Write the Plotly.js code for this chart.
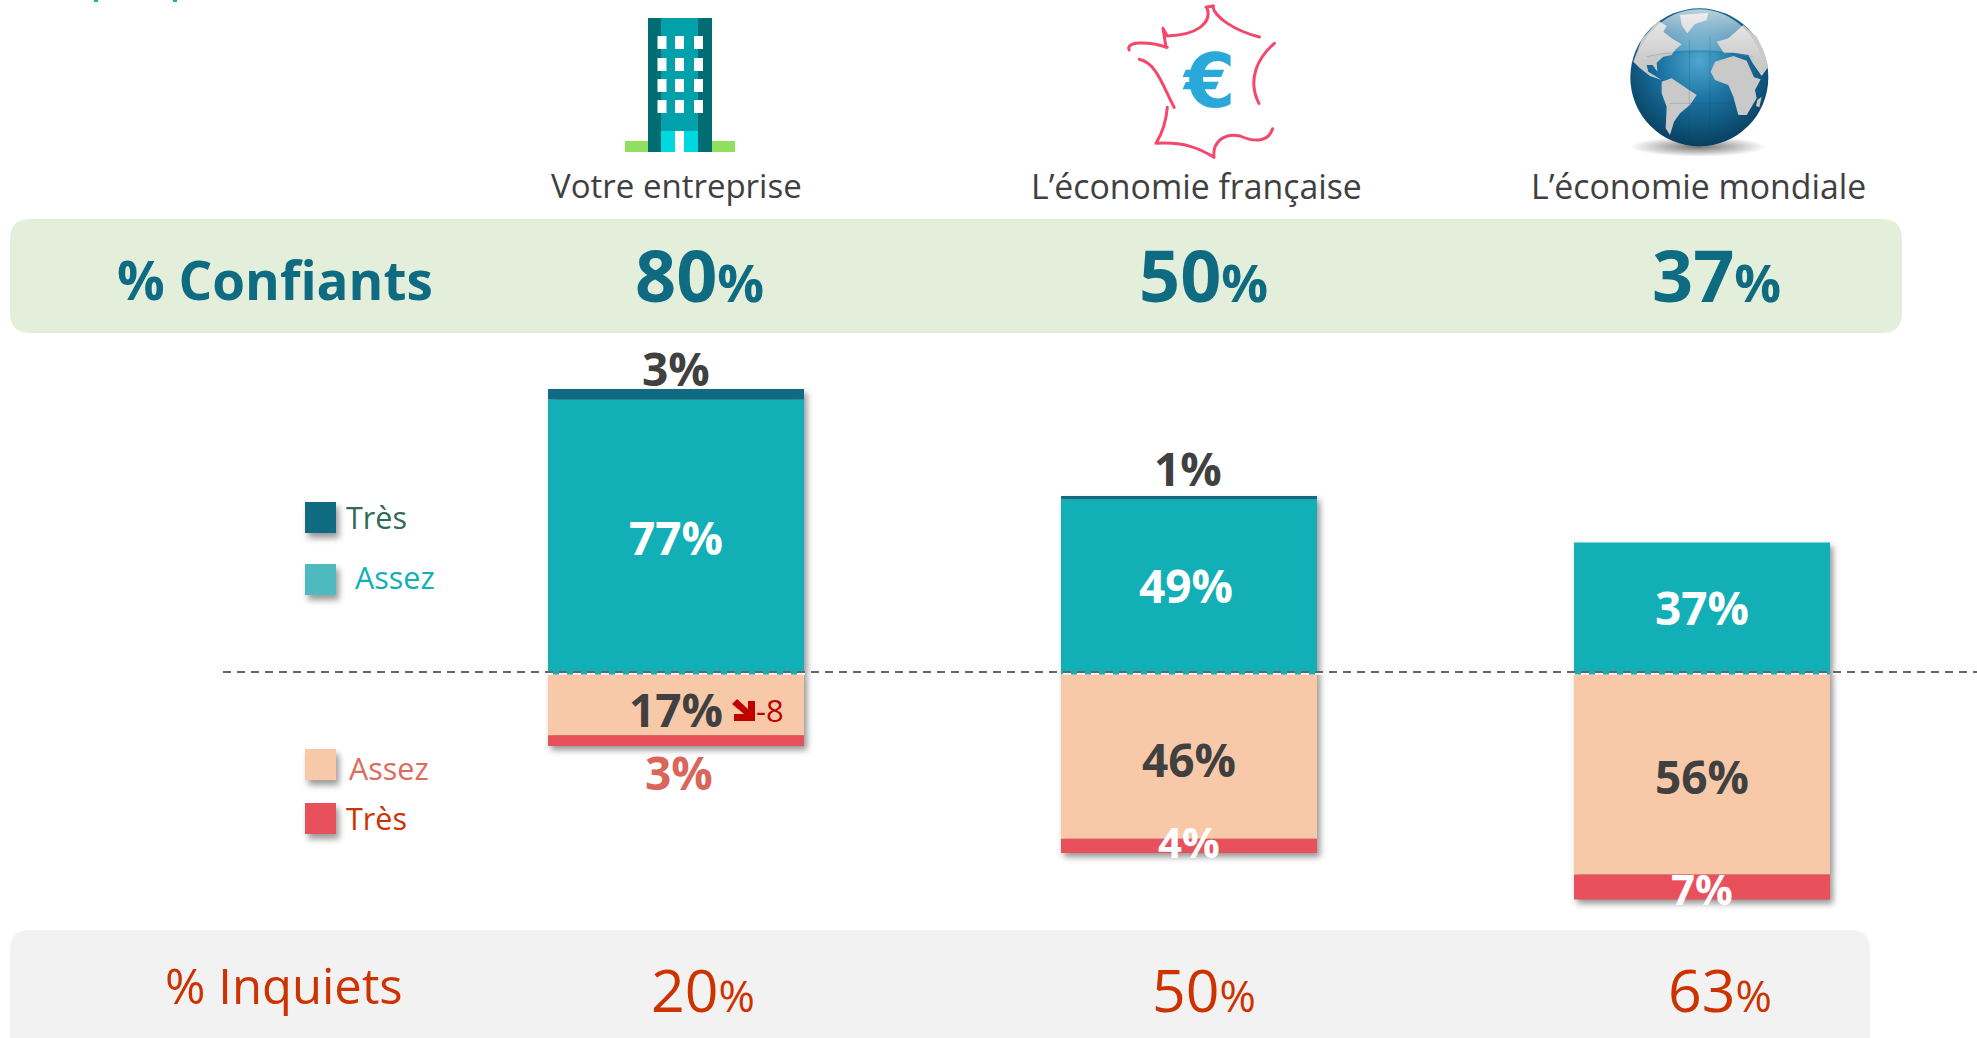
<!DOCTYPE html>
<html><head><meta charset="utf-8">
<script src="https://cdn.plot.ly/plotly-3.0.1.min.js"></script>
<style>
html,body{margin:0;padding:0;background:#fff;overflow:hidden}
#c{width:1977px;height:1038px}
.barlayer{filter:drop-shadow(3px 4px 3px rgba(0,0,0,.42))}
</style></head><body><div id="c"></div>
<script>
const categories = ["Votre entreprise", "L’économie française", "L’économie mondiale"];
const confiantsTotal = [80, 50, 37];
const inquietsTotal = [20, 50, 63];
const tresConfiants = [3, 1, 0];
const assezConfiants = [77, 49, 37];
const assezInquiets = [17, 46, 56];
const tresInquiets = [3, 4, 7];

const W = 1977, H = 1038, ZERO = 674.5, PXU = 3.57, X0 = 676, STEP = 513;
const FONT = '"Open Sans", sans-serif';
const C = {dark:'#0F6B82', teal:'#13AFB7', peach:'#F7C9A9', red:'#E8505B', txt:'#404040', inq:'#CC3300'};
const fx = x => x / W, fy = y => 1 - y / H;

function neg(a){ return a.map(v => -v); }
function bar(name, y, color){
  return {type:'bar', name, x:categories, y, width:0.499, marker:{color, line:{width:0}}, hoverinfo:'skip', showlegend:false};
}
const data = [
  bar('Assez confiants', assezConfiants, C.teal),
  bar('Très confiants', tresConfiants, C.dark),
  bar('Assez inquiets', neg(assezInquiets), C.peach),
  bar('Très inquiets', neg(tresInquiets), C.red)
];

function note(x, y, text, size, color, bold){
  return {xref:'paper', yref:'paper', x:fx(x), y:fy(y), text, showarrow:false, xanchor:'center', yanchor:'middle',
    font:{family:FONT, size, color, weight: bold ? 700 : 400}};
}
function valNote(i, yData, text, size, color, dx, dy, bold){
  return {xref:'x', yref:'y', x:categories[i], y:yData, text, showarrow:false, xanchor:'center', yanchor:'middle',
    xshift:dx, yshift:dy, font:{family:FONT, size, color, weight: bold === false ? 400 : 700}};
}
const pct = v => v + '%';
const big = (v, s) => v + '<span style="font-size:' + s + 'px">%</span>';
const annotations = [];
// Category headers
[676, 1196, 1698].forEach((x, i) => annotations.push(note(x, 186, categories[i], i ? 33.8 : 33, C.txt)));
// Summary rows
annotations.push(note(275, 279, '% Confiants', 53, C.dark, true));
[699, 1203, 1716].forEach((x, i) => annotations.push(note(x, 274, big(confiantsTotal[i], 52), 72, C.dark, true)));
annotations.push(note(284, 985, '% Inquiets', 49, C.inq));
[703, 1204, 1720].forEach((x, i) => annotations.push(note(x, 989, big(inquietsTotal[i], 44), 59, C.inq)));
// Bar labels
annotations.push(valNote(0, assezConfiants[0] + tresConfiants[0], pct(tresConfiants[0]), 46, C.txt, 0, 21));
annotations.push(valNote(1, assezConfiants[1] + tresConfiants[1], pct(tresConfiants[1]), 46, C.txt, -1, 28));
assezConfiants.forEach((v, i) => annotations.push(valNote(i, v / 2, pct(v), 46, '#fff', [0, -3, 0][i], [0, 2, 1][i])));
annotations.push(valNote(0, -assezInquiets[0] / 2, pct(assezInquiets[0]), 46, C.txt, 0, -4));
annotations.push(valNote(1, -assezInquiets[1] / 2, pct(assezInquiets[1]), 46, C.txt, 0, -2));
annotations.push(valNote(2, -assezInquiets[2] / 2, pct(assezInquiets[2]), 46, C.txt, 0, -2));
annotations.push(valNote(0, -assezInquiets[0] - tresInquiets[0], pct(tresInquiets[0]), 46, '#D9655B', 3, -26));
annotations.push(valNote(1, -assezInquiets[1] - tresInquiets[1] / 2, pct(tresInquiets[1]), 42, '#fff', 0, 4));
annotations.push(valNote(2, -assezInquiets[2] - tresInquiets[2] / 2, pct(tresInquiets[2]), 42, '#fff', 0, -2));
annotations.push(note(770, 710, '-8', 31, '#C00000'));
// Legend
annotations.push(note(376, 517, 'Très', 30.5, '#2F6B55'));
annotations.push(note(395, 577, 'Assez', 30.5, C.teal));
annotations.push(note(389, 768, 'Assez', 30.5, '#DD6B60'));
annotations.push(note(376, 818, 'Très', 30.5, C.inq));
// Euro glyph of the France icon
annotations.push({xref:'paper', yref:'paper', x:fx(1209), y:fy(81), text:'€', showarrow:false, xanchor:'center', yanchor:'middle',
  font:{family:'"DejaVu Sans", sans-serif', size:74, color:'#29A9D9', weight:700}});

function rr(x0, y0, x1, y1, r){
  const X = fx, Y = fy;
  return `M${X(x0+r)},${Y(y0)} L${X(x1-r)},${Y(y0)} Q${X(x1)},${Y(y0)} ${X(x1)},${Y(y0+r)} L${X(x1)},${Y(y1-r)} Q${X(x1)},${Y(y1)} ${X(x1-r)},${Y(y1)} L${X(x0+r)},${Y(y1)} Q${X(x0)},${Y(y1)} ${X(x0)},${Y(y1-r)} L${X(x0)},${Y(y0+r)} Q${X(x0)},${Y(y0)} ${X(x0+r)},${Y(y0)} Z`;
}
function box(x0, y0, x1, y1, color){
  return {type:'rect', xref:'paper', yref:'paper', x0:fx(x0), x1:fx(x1), y0:fy(y0), y1:fy(y1), fillcolor:color, line:{width:0}, layer:'above'};
}
const shapes = [
  {type:'path', xref:'paper', yref:'paper', path:rr(10,219,1902,333,20), fillcolor:'#E3EFDA', line:{width:0}, layer:'below'},
  {type:'path', xref:'paper', yref:'paper', path:rr(10,930,1870,1080,20), fillcolor:'#F2F2F2', line:{width:0}, layer:'below'},
  box(305,502,336,533,'#0F6B82'),
  box(305,564,336,595,'#4FB9C0'),
  box(305,749,336,780,C.peach),
  box(305,803,336,834,C.red),
  box(94,0,98,2,'#17B3BC'),
  box(173,0,177,2,'#17B3BC'),
  {type:'line', xref:'paper', yref:'y', x0:fx(223), x1:1, y0:(ZERO-673.7)/PXU, y1:(ZERO-673.7)/PXU, line:{color:'#fff', width:2, dash:'8px,6px'}, layer:'above'},
  {type:'line', xref:'paper', yref:'y', x0:fx(223), x1:1, y0:(ZERO-672)/PXU, y1:(ZERO-672)/PXU, line:{color:'#666', width:2, dash:'8px,6px'}, layer:'above'}
];
const shadowed = [2,3,4,5];

const uri = s => 'data:image/svg+xml;charset=utf-8,' + encodeURIComponent(s);
let win = '';
[36,58,79,100].forEach(y => [657.5,675,694].forEach(x => { win += `<rect x="${x-625}" y="${y-18}" width="9" height="13" fill="#fff"/>`; }));
const buildingSvg = `<svg xmlns="http://www.w3.org/2000/svg" width="110" height="134" viewBox="0 0 110 134">
<rect x="0" y="123" width="110" height="11" fill="#90DF5E"/>
<rect x="23" y="0" width="64" height="134" fill="#006D72"/>
<rect x="36" y="0" width="37" height="134" fill="#00A1AB"/>
${win}
<rect x="36" y="113" width="37" height="21" fill="#00D8E0"/>
<rect x="50" y="113" width="9" height="21" fill="#fff"/></svg>`;
const franceSvg = `<svg xmlns="http://www.w3.org/2000/svg" width="200" height="170" viewBox="160 0 321 510" preserveAspectRatio="none">
<g fill="none" stroke="#F5476B" stroke-width="3" stroke-linecap="round" stroke-linejoin="round">
<path vector-effect="non-scaling-stroke" d="M341 18 C343 50 375 92 416 111"/>
<path vector-effect="non-scaling-stroke" d="M330 22 L342 18 M332 24 C340 70 315 105 268 108 L261 85 L266 142"/>
<path vector-effect="non-scaling-stroke" d="M207 150 C200 125 235 122 268 142"/>
<path vector-effect="non-scaling-stroke" d="M223 178 C252 190 262 265 279 322"/>
<path vector-effect="non-scaling-stroke" d="M268 322 C266 370 258 405 250 430 C295 425 320 445 343 472 C340 425 360 398 385 408 C405 425 430 430 437 386"/>
<path vector-effect="non-scaling-stroke" d="M440 130 C415 170 395 235 415 310"/>
</g></svg>`;
const globeSvg = `<svg xmlns="http://www.w3.org/2000/svg" width="200" height="170" viewBox="0 0 600 510">
<defs>
<radialGradient id="b" cx="50%" cy="38%" r="62%"><stop offset="0" stop-color="#4FA8CF"/><stop offset=".45" stop-color="#1C74A3"/><stop offset=".8" stop-color="#0E5379"/><stop offset="1" stop-color="#0A3F60"/></radialGradient>
<linearGradient id="g" x1="0" y1="0" x2="0" y2="1"><stop offset="0" stop-color="#fff" stop-opacity=".7"/><stop offset="1" stop-color="#fff" stop-opacity="0"/></linearGradient>
<radialGradient id="s" cx="50%" cy="50%" r="50%"><stop offset="0" stop-color="#000" stop-opacity=".55"/><stop offset="1" stop-color="#000" stop-opacity="0"/></radialGradient>
</defs>
<ellipse cx="295" cy="440" rx="205" ry="30" fill="url(#s)"/>
<circle cx="298" cy="232" r="207" fill="url(#b)"/>
<g fill="#C9C9C9">
<path d="M100 185 L125 118 L175 62 L200 78 L190 95 L215 115 L245 133 L225 150 L215 165 L190 170 L170 188 L172 215 L158 195 L140 195 L145 215 L185 240 L150 228 L120 205 Z"/>
<path d="M240 45 L325 38 L320 60 L285 72 L262 100 L245 75 Z"/>
<path d="M185 245 L215 235 L245 255 L290 285 L270 315 L240 340 L222 365 L210 405 L197 385 L200 320 L185 280 Z"/>
<path d="M332 215 L345 185 L400 168 L440 182 L462 232 L482 238 L465 270 L470 295 L440 345 L415 345 L400 290 L385 255 L345 240 Z"/>
<path d="M372 160 L350 125 L385 115 L430 75 L470 110 L490 150 L505 200 L485 228 L458 190 L445 165 L400 158 Z"/>
<path d="M472 300 L485 290 L478 322 L468 318 Z"/>
</g>
<path d="M298 28 C195 28 120 110 105 195 C170 135 420 135 490 195 C475 110 400 28 298 28 Z" fill="url(#g)"/>
<g stroke="#0A3F60" stroke-opacity=".35" stroke-width="1.5" fill="none">
<path d="M268 120 V410 M330 110 V410 M210 310 H400 M140 170 C220 150 380 150 460 170"/>
</g></svg>`;
const arrowSvg = `<svg xmlns="http://www.w3.org/2000/svg" width="24" height="22" viewBox="0 0 24 22"><path d="M0 5 L5 0 L16 10 L16 2 L23 2 L23 22 L2 22 L2 15 L12 15 Z" fill="#C00000"/></svg>`;
function img(svg, x, y, w, h){
  return {source:uri(svg), xref:'paper', yref:'paper', x:fx(x), y:fy(y), sizex:w/W, sizey:h/H, sizing:'stretch', xanchor:'left', yanchor:'top', layer:'above'};
}
const images = [img(buildingSvg,625,18,110,134), img(franceSvg,1100,0,200,170), img(globeSvg,1600,0,200,170), img(arrowSvg,732,699,24,22)];

const layout = {
  width:W, height:H, autosize:false, margin:{l:0,r:0,t:0,b:0},
  paper_bgcolor:'#fff', plot_bgcolor:'rgba(0,0,0,0)', barmode:'relative', showlegend:false,
  xaxis:{type:'category', range:[-X0/STEP, (W-X0)/STEP], visible:false, fixedrange:true},
  yaxis:{range:[-(H-ZERO)/PXU, ZERO/PXU], visible:false, fixedrange:true, zeroline:false},
  annotations, shapes, images, font:{family:FONT}
};
Plotly.newPlot('c', data, layout, {displayModeBar:false, staticPlot:true}).then(() => {
  shadowed.forEach(k => {
    document.querySelectorAll('.shapelayer path[data-index="' + k + '"]').forEach(p => {
      p.style.filter = 'drop-shadow(3px 5px 3px rgba(0,0,0,.4))';
    });
  });
});
</script></body></html>
